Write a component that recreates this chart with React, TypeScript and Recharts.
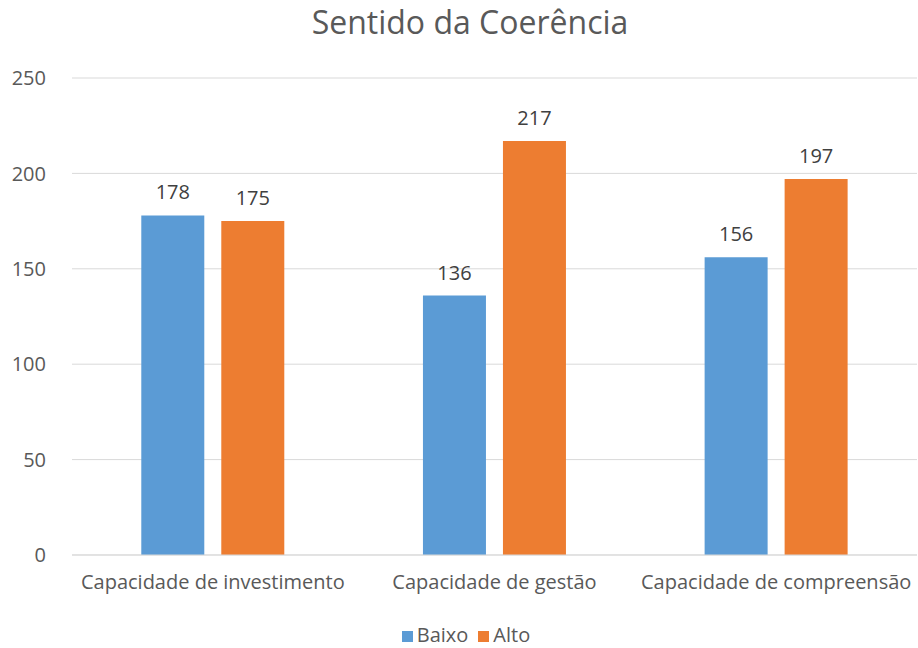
import React from 'react';
import { BarChart, Bar, XAxis, YAxis, CartesianGrid, Legend, LabelList } from 'recharts';

const categories = ['Capacidade de investimento', 'Capacidade de gestão', 'Capacidade de compreensão'];
const baixo = [178, 136, 156];
const alto = [175, 217, 197];
const yTicks = [0, 50, 100, 150, 200, 250];

const data = categories.map((name, i) => ({ name, Baixo: baixo[i], Alto: alto[i] }));

const FONT = '"Open Sans", Lato, sans-serif';
const TEXT = '#595959';

export default function App() {
  return (
    <div style={{ position: 'fixed', top: 0, left: 0, width: 918, height: 648, background: '#fff', fontFamily: FONT }}>
      <div
        style={{
          position: 'absolute',
          top: 1,
          left: 0,
          width: 940,
          textAlign: 'center',
          fontSize: 32,
          lineHeight: '42px',
          color: TEXT,
        }}
      >
        Sentido da Coerência
      </div>
      <BarChart
        width={918}
        height={648}
        data={data}
        margin={{ top: 78, right: 1, left: 0, bottom: 21 }}
        barCategoryGap="24.6%"
        barGap={17}
      >
        <CartesianGrid vertical={false} stroke="#D9D9D9" />
        <XAxis
          dataKey="name"
          interval={0}
          tickLine={false}
          axisLine={{ stroke: '#D9D9D9' }}
          tick={{ fill: TEXT, fontSize: 20, fontFamily: FONT }}
          tickMargin={14}
          height={46}
        />
        <YAxis
          domain={[0, 250]}
          ticks={yTicks}
          width={72}
          tickLine={false}
          axisLine={false}
          tick={{ fill: TEXT, fontSize: 20, fontFamily: FONT }}
          tickMargin={20}
        />
        <Legend
          verticalAlign="bottom"
          align="center"
          iconType="square"
          iconSize={11}
          itemSorter={null}
          wrapperStyle={{ left: 0, width: 918, bottom: 0, paddingLeft: 12, fontSize: 20, lineHeight: '26px', fontFamily: FONT }}
          formatter={(value) => <span style={{ color: TEXT }}>{value}</span>}
        />
        <Bar dataKey="Baixo" fill="#5B9BD5" isAnimationActive={false}>
          <LabelList dataKey="Baixo" position="top" offset={16} fill="#404040" fontSize={20} fontFamily={FONT} />
        </Bar>
        <Bar dataKey="Alto" fill="#ED7D31" isAnimationActive={false}>
          <LabelList dataKey="Alto" position="top" offset={16} fill="#404040" fontSize={20} fontFamily={FONT} />
        </Bar>
      </BarChart>
    </div>
  );
}
